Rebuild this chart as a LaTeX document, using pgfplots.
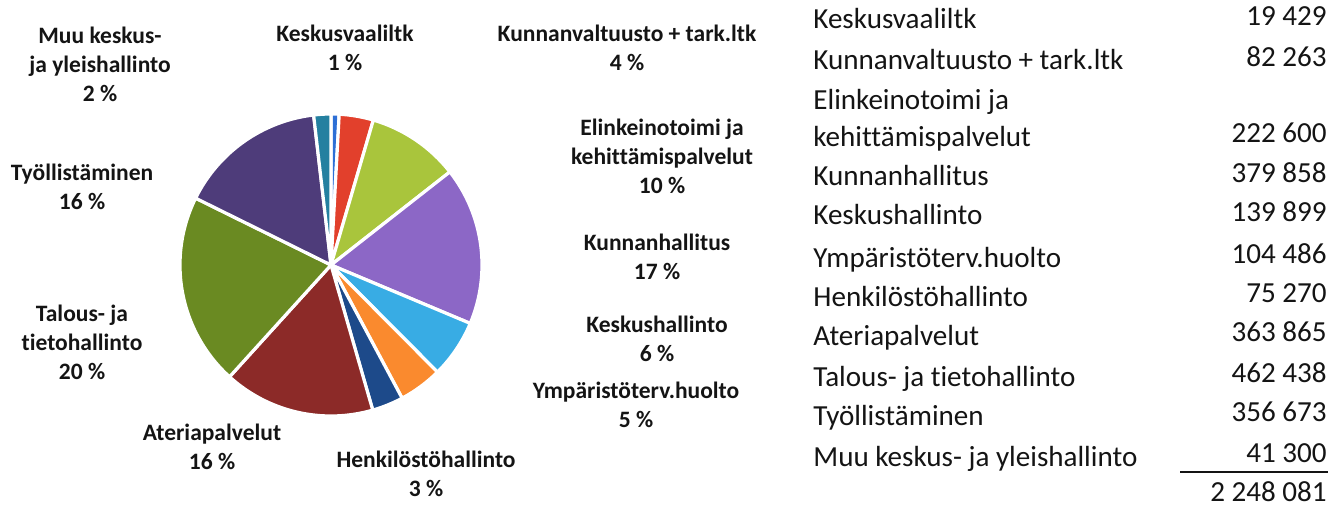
\documentclass[border=0pt]{standalone}
\usepackage{fontspec}
\setmainfont{Carlito}[Ligatures={NoCommon}]
\usepackage{pgfplots}
\usepackage{pgfplotstable}
\pgfplotsset{compat=1.18}
\definecolor{cKesk}{HTML}{2D6FD6}
\definecolor{cKunv}{HTML}{E2402C}
\definecolor{cElin}{HTML}{A9C53C}
\definecolor{cKunh}{HTML}{8C67C6}
\definecolor{cKeskh}{HTML}{38ACE4}
\definecolor{cYmp}{HTML}{FA8A2E}
\definecolor{cHenk}{HTML}{1D4A8A}
\definecolor{cAter}{HTML}{8C2A28}
\definecolor{cTal}{HTML}{6A8A22}
\definecolor{cTyo}{HTML}{4E3C7A}
\definecolor{cMuu}{HTML}{2480A0}
\definecolor{txt}{HTML}{141414}

\pgfplotstableread[col sep=comma]{
name,value,col
Keskusvaaliltk,19429,cKesk
Kunnanvaltuusto + tark.ltk,82263,cKunv
Elinkeinotoimi ja kehittämispalvelut,222600,cElin
Kunnanhallitus,379858,cKunh
Keskushallinto,139899,cKeskh
Ympäristöterv.huolto,104486,cYmp
Henkilöstöhallinto,75270,cHenk
Ateriapalvelut,363865,cAter
Talous- ja tietohallinto,462438,cTal
Työllistäminen,356673,cTyo
Muu keskus- ja yleishallinto,41300,cMuu
}\piedata

\begin{document}
\begin{tikzpicture}
\begin{axis}[
  scale only axis, width=669.5bp, height=253bp,
  xmin=0, xmax=1339, ymin=0, ymax=506, y dir=reverse,
  hide axis, clip=false]
\path (axis cs:0,0) rectangle (axis cs:1339,506);
% pie slices from the table values
\def\total{2248081}
\def\cum{0}
\pgfplotsforeachungrouped \i in {0,...,10}{%
  \pgfplotstablegetelem{\i}{value}\of\piedata \let\v=\pgfplotsretval
  \pgfplotstablegetelem{\i}{col}\of\piedata \let\c=\pgfplotsretval
  \edef\a{\fpeval{90-360*\cum/\total}}%
  \edef\cum{\fpeval{\cum+\v}}%
  \edef\b{\fpeval{90-360*\cum/\total}}%
  \edef\temp{\noexpand\filldraw[fill=\c, draw=white, line width=1.6bp, line join=round] (axis cs:331,265) -- ++(\a:75.5bp) arc[start angle=\a, end angle=\b, radius=75.5bp] -- cycle;}%
  \temp
}
% pie labels
\tikzset{lab/.style={align=center, font=\fontsize{11.8}{14.5}\selectfont\bfseries, text=txt, inner sep=0pt}}
\node[lab] at (axis cs:100,64) {Muu keskus-\\ja yleishallinto\\2 \%};
\node[lab] at (axis cs:345,47.5) {Keskusvaaliltk\\1 \%};
\node[lab] at (axis cs:627,47.5) {Kunnanvaltuusto + tark.ltk\\4 \%};
\node[lab] at (axis cs:662,156) {Elinkeinotoimi ja\\kehittämispalvelut\\10 \%};
\node[lab] at (axis cs:657,257) {Kunnanhallitus\\17 \%};
\node[lab] at (axis cs:657,339) {Keskushallinto\\6 \%};
\node[lab] at (axis cs:636,405) {Ympäristöterv.huolto\\5 \%};
\node[lab] at (axis cs:426,473.5) {Henkilöstöhallinto\\3 \%};
\node[lab] at (axis cs:212,446.5) {Ateriapalvelut\\16 \%};
\node[lab] at (axis cs:82,342) {Talous- ja\\tietohallinto\\20 \%};
\node[lab] at (axis cs:82,187) {Työllistäminen\\16 \%};
% table
\tikzset{tn/.style={anchor=base west, font=\fontsize{14.6}{17}\selectfont, text=txt, inner sep=0pt},
         tv/.style={anchor=base east, font=\fontsize{14.6}{17}\selectfont, text=txt, inner sep=0pt}}
\node[tn] at (axis cs:813,29) {Keskusvaaliltk};
\node[tn] at (axis cs:813,69) {Kunnanvaltuusto + tark.ltk};
\node[tn] at (axis cs:813,109) {Elinkeinotoimi ja};
\node[tn] at (axis cs:813,146) {kehittämispalvelut};
\node[tn] at (axis cs:813,185) {Kunnanhallitus};
\node[tn] at (axis cs:813,224) {Keskushallinto};
\node[tn] at (axis cs:813,267) {Ympäristöterv.huolto};
\node[tn] at (axis cs:813,306) {Henkilöstöhallinto};
\node[tn] at (axis cs:813,345) {Ateriapalvelut};
\node[tn] at (axis cs:813,386) {Talous- ja tietohallinto};
\node[tn] at (axis cs:813,425) {Työllistäminen};
\node[tn] at (axis cs:813,466) {Muu keskus- ja yleishallinto};
\node[tv] at (axis cs:1327,26) {19 429};
\node[tv] at (axis cs:1327,66) {82 263};
\node[tv] at (axis cs:1327,142) {222 600};
\node[tv] at (axis cs:1327,182) {379 858};
\node[tv] at (axis cs:1327,221) {139 899};
\node[tv] at (axis cs:1327,263) {104 486};
\node[tv] at (axis cs:1327,302) {75 270};
\node[tv] at (axis cs:1327,341) {363 865};
\node[tv] at (axis cs:1327,382) {462 438};
\node[tv] at (axis cs:1327,421) {356 673};
\node[tv] at (axis cs:1327,462) {41 300};
\draw[txt, line width=1bp] (axis cs:1180,472) -- (axis cs:1328,472);
\node[tv] at (axis cs:1327,501) {2 248 081};
\end{axis}
\end{tikzpicture}
\end{document}
